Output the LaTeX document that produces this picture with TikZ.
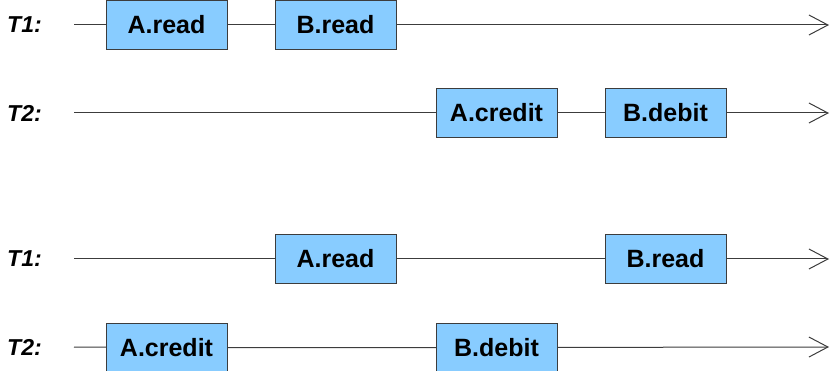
\documentclass[tikz,border=0pt]{standalone}
\usepackage{fontspec}
\setmainfont{Liberation Sans}
\usetikzlibrary{arrows.meta}
\definecolor{opblue}{RGB}{136,204,255}
\definecolor{edge}{RGB}{60,60,60}
\tikzset{
  op/.style={draw=edge, fill=opblue, minimum width=121pt, minimum height=49pt,
    inner sep=0pt, font=\fontsize{25}{28}\selectfont\bfseries},
  tx/.style={anchor=west, inner sep=0pt, font=\fontsize{23}{28}\selectfont\bfseries\itshape},
  tl/.style={draw=edge, line width=1pt, -{Straight Barb[length=19pt,width=20pt,line width=1pt]}}
}
\begin{document}
\begin{tikzpicture}[x=1pt,y=-1pt]
  \useasboundingbox (0,0) rectangle (830,371);
  % first schedule
  \node (t1) at (7,25) [tx] {T1:}; \coordinate (s1) at (74,25);
  \coordinate (e1) at (829,25);
  \node (a1) at (166.5,25) [op] {A.read\hspace{6pt}}; \node (b1) at (335.5,25) [op] {B.read\hspace{6pt}};
  \node (t2) at (7,113) [tx] {T2:}; \coordinate (s2) at (74,113);
  \coordinate (e2) at (829,113);
  \node (a2) at (496.5,113) [op] {A.credit\hspace{6pt}}; \node (b2) at (665.5,113) [op] {B.debit\hspace{6pt}};
  \draw[tl] (s1) -- (a1) -- (b1) -- (e1);
  \draw[tl] (s2) -- (a2) -- (b2) -- (e2);
  % second schedule
  \node (t3) at (7,259) [tx] {T1:}; \coordinate (s3) at (74,259);
  \coordinate (e3) at (829,259);
  \node (a3) at (335.5,259) [op] {A.read\hspace{6pt}}; \node (b3) at (665.5,259) [op] {B.read\hspace{6pt}};
  \node (t4) at (7,347) [tx] {T2:}; \coordinate (s4) at (74,347);
  \coordinate (e4) at (829,347);
  \node (a4) at (166.5,347.5) [op] {A.credit\hspace{6pt}}; \node (b4) at (496.5,347.5) [op] {B.debit\hspace{6pt}};
  \draw[tl] (s3) -- (a3) -- (b3) -- (e3);
  \draw[tl] (s4) -- (a4) -- (b4) -- (e4);
\end{tikzpicture}
\end{document}
